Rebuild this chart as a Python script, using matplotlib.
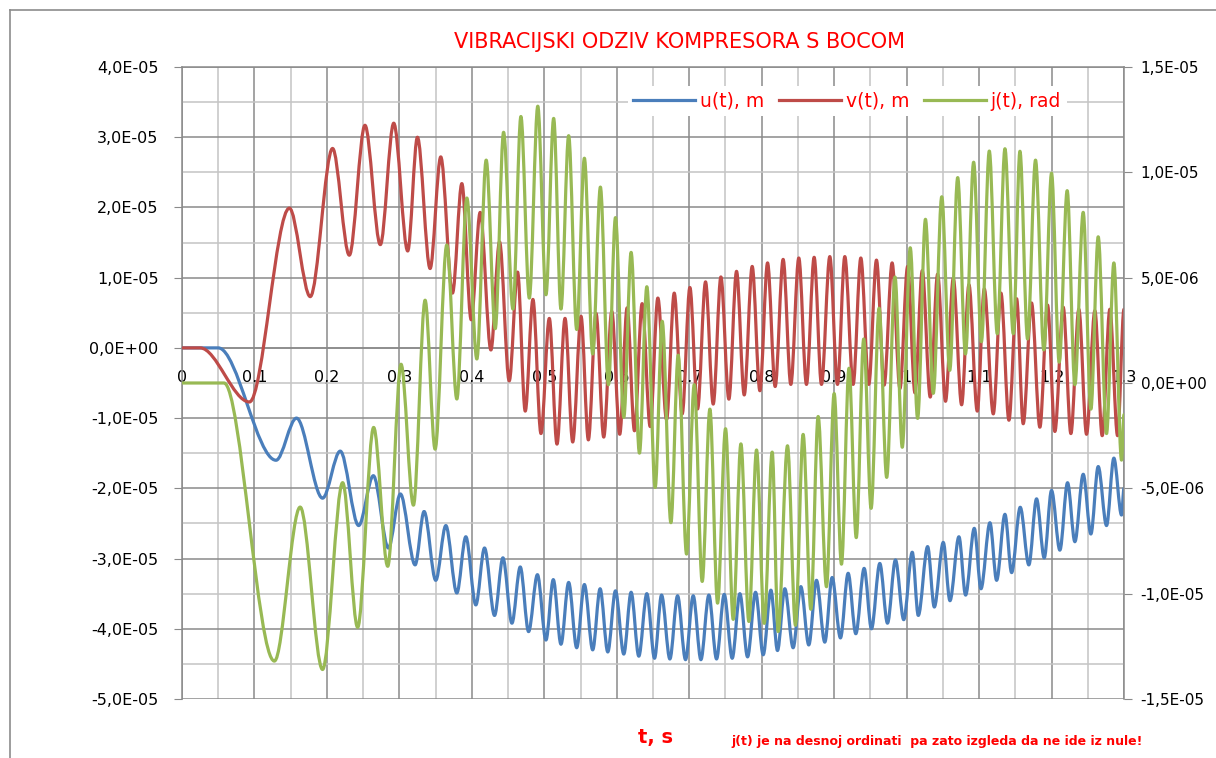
import matplotlib
matplotlib.use("Agg")
import matplotlib.pyplot as plt
from matplotlib.path import Path
from matplotlib.patches import PathPatch
from matplotlib.lines import Line2D
from matplotlib.ticker import MultipleLocator, FixedLocator

plt.rcParams["font.family"] = "DejaVu Sans"

# extrema (time in s)
# u(t), v(t) in 1e-5 m (left axis), j(t) in 1e-6 rad (right axis)
t_u = [0, 0.05, 0.1298, 0.158, 0.194, 0.2184, 0.2438, 0.2641, 0.2848, 0.3014, 0.3217,
       0.3341, 0.3502, 0.3641, 0.3793, 0.3917, 0.4055, 0.4175, 0.4313, 0.4429, 0.4553,
       0.4668, 0.4783, 0.4905, 0.5023, 0.5124, 0.523, 0.5336, 0.5447, 0.5553, 0.5668,
       0.577, 0.5876, 0.5982, 0.6097, 0.6198, 0.6304, 0.6415, 0.6521, 0.6618, 0.6733,
       0.6839, 0.6949, 0.7055, 0.7161, 0.7271, 0.7377, 0.7483, 0.7593, 0.7699, 0.7805,
       0.7915, 0.8021, 0.8127, 0.8218, 0.8319, 0.8434, 0.854, 0.865, 0.8756, 0.8871,
       0.8972, 0.9087, 0.9193, 0.9299, 0.9414, 0.9515, 0.963, 0.9736, 0.9846, 0.996,
       1.0078, 1.0161, 1.029, 1.0382, 1.0506, 1.0598, 1.0722, 1.0814, 1.0934, 1.1026,
       1.115, 1.1242, 1.1357, 1.1449, 1.1568, 1.1687, 1.1793, 1.1899, 1.2, 1.2115,
       1.2221, 1.2322, 1.2437, 1.2543, 1.2644, 1.2759, 1.286, 1.2966, 1.3]
u_val = [0, 0, -1.6, -1.0, -2.14, -1.47, -2.53, -1.82, -2.85, -2.08, -3.09,
         -2.33, -3.31, -2.53, -3.49, -2.69, -3.66, -2.85, -3.81, -2.99, -3.92,
         -3.12, -4.04, -3.23, -4.16, -3.3, -4.22, -3.34, -4.27, -3.37, -4.3,
         -3.43, -4.33, -3.46, -4.36, -3.48, -4.39, -3.5, -4.42, -3.52, -4.43,
         -3.53, -4.44, -3.53, -4.44, -3.52, -4.43, -3.51, -4.42, -3.5, -4.4,
         -3.48, -4.37, -3.45, -4.31, -3.43, -4.27, -3.4, -4.23, -3.31, -4.19,
         -3.27, -4.13, -3.21, -4.07, -3.14, -4.0, -3.07, -3.92, -3.02, -3.87,
         -2.91, -3.81, -2.83, -3.69, -2.77, -3.6, -2.69, -3.52, -2.57, -3.43,
         -2.49, -3.31, -2.37, -3.2, -2.27, -3.09, -2.15, -2.99, -2.03, -2.88,
         -1.92, -2.76, -1.8, -2.65, -1.69, -2.53, -1.57, -2.38, -2.0]

t_v = [0, 0.025, 0.0931, 0.1482, 0.177, 0.2078, 0.2309, 0.2525, 0.2737, 0.2922, 0.3115,
       0.3249, 0.3424, 0.3571, 0.3733, 0.3862, 0.3991, 0.4115, 0.4263, 0.4382, 0.4516,
       0.4631, 0.4737, 0.4843, 0.4954, 0.5069, 0.5175, 0.5286, 0.5392, 0.5507, 0.5608,
       0.5714, 0.582, 0.5931, 0.6041, 0.6143, 0.6244, 0.635, 0.6461, 0.6567, 0.6687,
       0.6793, 0.6903, 0.7009, 0.7115, 0.7225, 0.7331, 0.7437, 0.7547, 0.7653, 0.7759,
       0.7869, 0.7975, 0.8081, 0.8186, 0.8296, 0.8402, 0.8512, 0.8618, 0.8724, 0.8825,
       0.894, 0.9046, 0.9147, 0.9262, 0.9368, 0.9478, 0.9584, 0.969, 0.98, 0.9908,
       1.0014, 1.0115, 1.0216, 1.0326, 1.0428, 1.0537, 1.0644, 1.0759, 1.086, 1.0975,
       1.1072, 1.1196, 1.1302, 1.1412, 1.1518, 1.1609, 1.1724, 1.1839, 1.1945, 1.2046,
       1.2161, 1.2267, 1.2377, 1.2483, 1.2598, 1.2699, 1.2805, 1.2911, 1.3]
v_val = [0, 0, -0.77, 1.99, 0.73, 2.84, 1.32, 3.17, 1.47, 3.2, 1.38,
         3.0, 1.13, 2.72, 0.78, 2.34, 0.4, 1.93, -0.03, 1.51, -0.47,
         1.08, -0.9, 0.69, -1.22, 0.42, -1.37, 0.42, -1.34, 0.45, -1.31,
         0.49, -1.27, 0.52, -1.23, 0.57, -1.18, 0.63, -1.12, 0.71, -1.02,
         0.78, -0.94, 0.86, -0.87, 0.94, -0.8, 1.01, -0.73, 1.09, -0.67,
         1.16, -0.61, 1.21, -0.55, 1.26, -0.52, 1.28, -0.52, 1.29, -0.52,
         1.3, -0.52, 1.3, -0.52, 1.28, -0.52, 1.25, -0.53, 1.21, -0.58,
         1.16, -0.64, 1.1, -0.7, 1.05, -0.76, 0.99, -0.81, 0.9, -0.9,
         0.84, -0.94, 0.78, -1.03, 0.7, -1.08, 0.64, -1.13, 0.61, -1.19,
         0.58, -1.22, 0.55, -1.23, 0.53, -1.25, 0.55, -1.25, 0.55]

t_j = [0, 0.058, 0.1275, 0.1631, 0.194, 0.2217, 0.2424, 0.2645, 0.2839, 0.3023, 0.3194,
       0.3355, 0.3493, 0.3654, 0.3793, 0.3931, 0.4069, 0.4198, 0.4323, 0.4438, 0.4567,
       0.4677, 0.4793, 0.491, 0.5023, 0.5129, 0.523, 0.5336, 0.5447, 0.5553, 0.5668,
       0.5774, 0.5885, 0.5982, 0.6097, 0.6198, 0.6313, 0.6415, 0.653, 0.6627, 0.6747,
       0.6848, 0.6963, 0.7069, 0.7179, 0.7285, 0.7391, 0.7501, 0.7607, 0.7713, 0.7823,
       0.7929, 0.8035, 0.8145, 0.8227, 0.8356, 0.8466, 0.8572, 0.8678, 0.8779, 0.8894,
       0.9, 0.9101, 0.9205, 0.9305, 0.9408, 0.951, 0.962, 0.9725, 0.984, 0.994,
       1.005, 1.0152, 1.026, 1.0368, 1.0485, 1.0595, 1.0705, 1.0812, 1.0925, 1.1032,
       1.1141, 1.1251, 1.1357, 1.1472, 1.1564, 1.1669, 1.1779, 1.1894, 1.2, 1.2106,
       1.2216, 1.2322, 1.2437, 1.2543, 1.2644, 1.2759, 1.286, 1.2966, 1.3]
j_val = [0, 0, -13.2, -5.89, -13.6, -4.73, -11.6, -2.11, -8.7, 0.89, -5.8,
         3.93, -3.14, 6.55, -0.76, 8.78, 1.14, 10.58, 2.58, 11.9, 3.51,
         12.65, 4.03, 13.14, 4.19, 12.56, 3.51, 11.74, 2.54, 10.67, 1.38,
         9.3, -0.08, 7.85, -1.63, 6.2, -3.33, 4.57, -4.96, 2.93, -6.63,
         1.32, -8.12, -0.08, -9.42, -1.24, -10.45, -2.17, -11.22, -2.89, -11.32,
         -3.18, -11.41, -3.28, -11.8, -2.98, -11.5, -2.44, -10.74, -1.59, -9.67,
         -0.5, -8.6, 0.7, -7.34, 2.09, -5.95, 3.55, -4.48, 5.03, -3.05,
         6.42, -1.68, 7.77, -0.49, 8.84, 0.6, 9.75, 1.38, 10.48, 1.96,
         11.01, 2.34, 11.12, 2.34, 11.0, 2.09, 10.58, 1.57, 9.96, 0.99,
         9.13, -0.08, 8.1, -1.24, 6.94, -2.4, 5.7, -3.66, -1.5]

x_ticks = [0, 0.1, 0.2, 0.3, 0.4, 0.5, 0.6, 0.7, 0.8, 0.9, 1.0, 1.1, 1.2, 1.3]
x_labels = ["0", "0,1", "0,2", "0,3", "0,4", "0,5", "0,6", "0,7", "0,8", "0,9",
            "1", "1,1", "1,2", "1,3"]
left_ticks = [4e-5, 3e-5, 2e-5, 1e-5, 0, -1e-5, -2e-5, -3e-5, -4e-5, -5e-5]
left_labels = ["4,0E-05", "3,0E-05", "2,0E-05", "1,0E-05", "0,0E+00", "-1,0E-05",
               "-2,0E-05", "-3,0E-05", "-4,0E-05", "-5,0E-05"]
right_ticks = [1.5e-5, 1e-5, 5e-6, 0, -5e-6, -1e-5, -1.5e-5]
right_labels = ["1,5E-05", "1,0E-05", "5,0E-06", "0,0E+00", "-5,0E-06", "-1,0E-05",
                "-1,5E-05"]

c_u = "#4a7ebb"
c_v = "#be4b48"
c_j = "#98b954"
grid_major = "#8a8a8a"
grid_minor = "#c4c4c4"


def smooth_path(t, y, scale):
    # cubic segments with flat tangents at every extremum
    verts = [(t[0], y[0] * scale)]
    codes = [Path.MOVETO]
    for i in range(len(t) - 1):
        dt = t[i + 1] - t[i]
        verts += [(t[i] + dt / 3, y[i] * scale),
                  (t[i + 1] - dt / 3, y[i + 1] * scale),
                  (t[i + 1], y[i + 1] * scale)]
        codes += [Path.CURVE4] * 3
    return Path(verts, codes)


fig = plt.figure(figsize=(12.16, 7.58), dpi=100)
ax = fig.add_axes([182 / 1216, 1 - 699 / 758, 942 / 1216, 632 / 758])

ax.set_xlim(0, 1.3)
ax.set_ylim(-5e-5, 4e-5)
ax.xaxis.set_major_locator(FixedLocator(x_ticks))
ax.xaxis.set_minor_locator(MultipleLocator(0.05))
ax.set_xticklabels(x_labels)
ax.yaxis.set_major_locator(FixedLocator(left_ticks))
ax.yaxis.set_minor_locator(MultipleLocator(5e-6))
ax.set_yticklabels(left_labels)

ax.grid(which="major", color=grid_major, lw=1.1, zorder=0)
ax.grid(which="minor", color=grid_minor, lw=1.1, zorder=0)
ax.set_axisbelow(True)

ax.spines["bottom"].set_position(("data", 0))
ax.spines["bottom"].set_color(grid_major)
ax.spines["left"].set_color(grid_major)
ax.spines["top"].set_color(grid_major)
ax.spines["right"].set_visible(False)
for s in ax.spines.values():
    s.set_linewidth(1.1)

ax.tick_params(axis="x", which="both", length=0, pad=16, labelsize=11.5)
ax.tick_params(axis="y", which="major", direction="out", length=6, color=grid_major,
               labelsize=11.5, pad=11)
ax.tick_params(axis="y", which="minor", length=0)

ax.add_patch(PathPatch(smooth_path(t_u, u_val, 1e-5), fill=False, edgecolor=c_u,
                       lw=2.3, capstyle="round", joinstyle="round", zorder=3))
ax.add_patch(PathPatch(smooth_path(t_v, v_val, 1e-5), fill=False, edgecolor=c_v,
                       lw=2.3, capstyle="round", joinstyle="round", zorder=3))

ax2 = ax.twinx()
ax2.set_ylim(-1.5e-5, 1.5e-5)
ax2.yaxis.set_major_locator(FixedLocator(right_ticks))
ax2.set_yticklabels(right_labels)
ax2.tick_params(axis="y", direction="out", length=6, color=grid_major, labelsize=11,
                pad=6)
for side in ["left", "top", "bottom"]:
    ax2.spines[side].set_visible(False)
ax2.spines["right"].set_color(grid_major)
ax2.spines["right"].set_linewidth(1.1)
ax2.add_patch(PathPatch(smooth_path(t_j, j_val, 1e-6), fill=False, edgecolor=c_j,
                        lw=2.3, capstyle="round", joinstyle="round", zorder=3))

handles = [Line2D([], [], color=c_u, lw=2.3),
           Line2D([], [], color=c_v, lw=2.3),
           Line2D([], [], color=c_j, lw=2.3)]
leg = ax2.legend(handles, ["u(t), m", "v(t), m", "j(t), rad"], loc="center",
                 bbox_to_anchor=(0.706, 0.946), ncol=3, fontsize=13.5, labelcolor="red",
                 frameon=True, fancybox=False, handlelength=3.3, handletextpad=0.25,
                 columnspacing=0.8, borderpad=0.3)
leg.get_frame().set_facecolor("white")
leg.get_frame().set_edgecolor("none")
leg.get_frame().set_alpha(1)

fig.text(680 / 1216, 1 - 42 / 758, "VIBRACIJSKI ODZIV KOMPRESORA S BOCOM",
         color="red", fontsize=15, ha="center", va="center")
fig.text(655 / 1216, 1 - 737 / 758, "t, s", color="red", fontsize=14,
         fontweight="bold", ha="center", va="center")
fig.text(731 / 1216, 1 - 741 / 758,
         "j(t) je na desnoj ordinati  pa zato izgleda da ne ide iz nule!",
         color="red", fontsize=9, fontweight="bold", ha="left", va="center")

# outer chart border (left and top edges visible)
fig.add_artist(Line2D([10 / 1216, 10 / 1216], [0, 1 - 10 / 758],
                      transform=fig.transFigure, color="#8c8c8c", lw=1.2))
fig.add_artist(Line2D([10 / 1216, 1], [1 - 10 / 758, 1 - 10 / 758],
                      transform=fig.transFigure, color="#8c8c8c", lw=1.2))

fig.savefig("out.png", dpi=100)
